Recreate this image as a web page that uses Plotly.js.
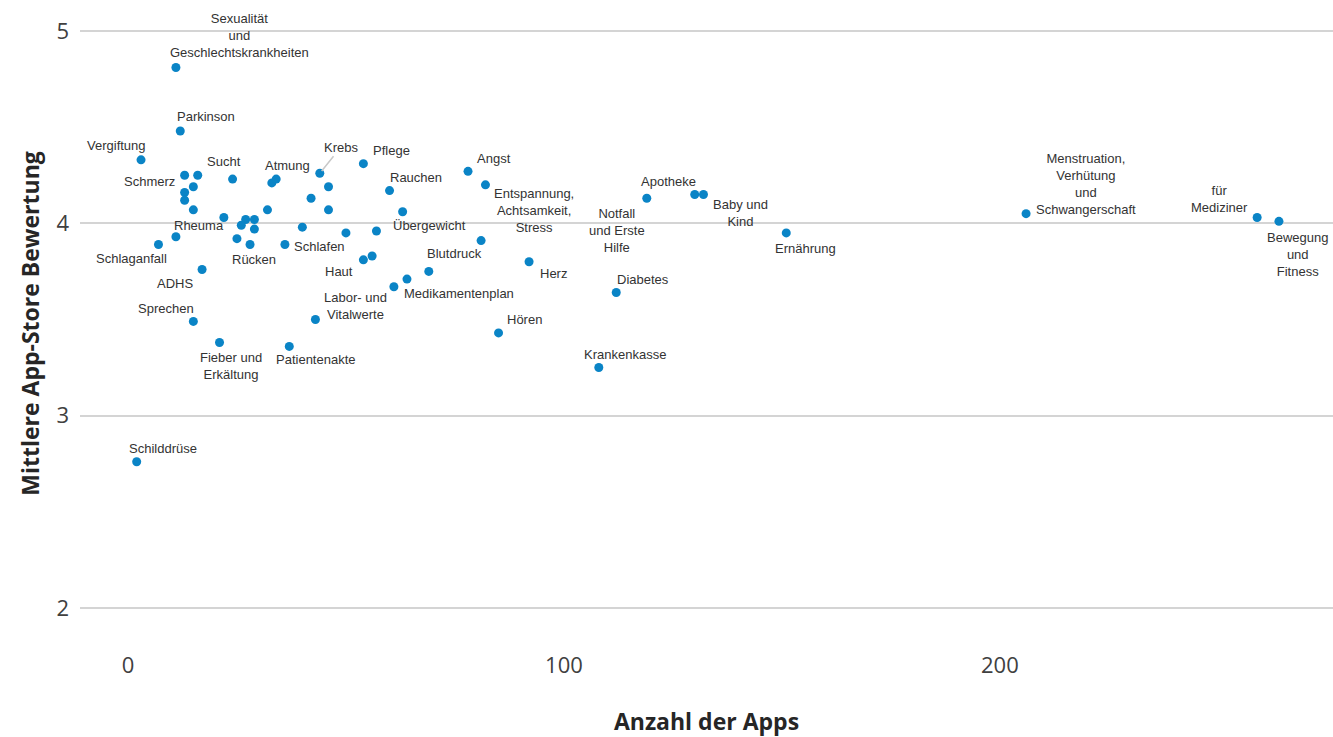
<!DOCTYPE html>
<html>
<head>
<meta charset="utf-8">
<script src="https://cdn.plot.ly/plotly-3.0.1.min.js"></script>
<style>html,body{margin:0;padding:0;background:#fff;}#chart{width:1333px;height:737px;}</style>
</head>
<body>
<div id="chart"></div>
<script>
// ---- data ----
const labels = [
  "Sexualität<br>und<br>Geschlechtskrankheiten","Parkinson","Vergiftung","Schmerz","","","","","",
  "Sucht","","Atmung","Krebs","","","","Rheuma","","","","","","","",
  "Schlaganfall","","Rücken","Schlafen","ADHS","Sprechen","Fieber und<br>Erkältung","Patientenakte","",
  "Schilddrüse","Pflege","Rauchen","","Übergewicht","","Haut","","Blutdruck","Medikamentenplan",
  "Labor- und<br>Vitalwerte","Angst","Entspannung,<br>Achtsamkeit,<br>Stress","","Herz","Hören",
  "Notfall<br>und Erste<br>Hilfe","Diabetes","Krankenkasse","Apotheke","Baby und<br>Kind","Ernährung",
  "Menstruation,<br>Verhütung<br>und<br>Schwangerschaft","für<br>Mediziner","Bewegung<br>und<br>Fitness"
];
const appCounts = [
  11,12,3,13,16,15,13,13,15,
  24,33,34,44,46,42,46,22,27,26,29,29,32,40,11,
  7,25,28,36,17,15,21,37,43,
  2,54,60,63,57,50,54,56,69,64,
  61,78,82,81,92,85,
  119,112,108,130,132,151,
  206,259,264
];
const ratings = [
  4.81,4.48,4.33,4.25,4.25,4.19,4.16,4.12,4.07,
  4.23,4.21,4.23,4.26,4.19,4.13,4.07,4.03,4.02,3.99,4.02,3.97,4.07,3.98,3.93,
  3.89,3.92,3.89,3.89,3.76,3.49,3.38,3.36,3.50,
  2.76,4.31,4.17,4.06,3.96,3.95,3.81,3.83,3.75,3.71,
  3.67,4.27,4.20,3.91,3.80,3.43,
  4.13,3.64,3.25,4.15,4.15,3.95,
  4.05,4.03,4.01
];
const xTickVals = [0,100,200];
const yTickVals = [2,3,4,5];
const xTitle = "Anzahl der Apps";
const yTitle = "Mittlere App-Store Bewertung";

// ---- label placement (style): pixel offsets [dx, dyUp] per label index ----
const labelOffsets = {
  0:[64,32],1:[26,14],2:[-25,14],3:[-35,-6],9:[-9,18],11:[11,14],
  16:[-25,-8],24:[-27,-14],26:[4,-15],27:[35,-2],28:[-27,-14],29:[-27,13],
  30:[11,-23],31:[27,-13],33:[26,13],34:[28,13],35:[26,13],37:[53,5],
  39:[-24,-12],41:[26,18],42:[52,-14],43:[-38,-19],44:[26,13],45:[49,-26],
  47:[24,-12],48:[26,13],49:[-30,-32],50:[27,13],51:[26,13],52:[-26,13],
  53:[37,-19],54:[19,-16],55:[60,30],56:[-38,19],57:[19,-33]
};

const labelFont = {family:"Liberation Sans, Arial, sans-serif", size:13, color:"#333333"};
const annotations = [];
labels.forEach((t,i)=>{
  if(!t) return;
  if(t === "Krebs"){
    annotations.push({x:appCounts[i], y:ratings[i], xref:'x', yref:'y', text:t,
      showarrow:true, arrowhead:0, arrowwidth:1.5, arrowcolor:'#c8c8c8',
      ax:21, ay:-26, standoff:3, font:labelFont});
    return;
  }
  const o = labelOffsets[i] || [0,14];
  annotations.push({x:appCounts[i], y:ratings[i], xref:'x', yref:'y', text:t,
    showarrow:false, xshift:o[0], yshift:o[1], align:'center', font:labelFont});
});

const trace = {
  type:'scatter', mode:'markers', x:appCounts, y:ratings, text:labels,
  marker:{color:'#0a84c6', size:9}, hoverinfo:'skip', cliponaxis:false
};

const axisFont = {family:"Open Sans, sans-serif", size:22, color:"#404040"};
const titleFont = {family:"Open Sans, sans-serif", size:23, color:"#262626", weight:700};
const layout = {
  width:1333, height:737,
  margin:{l:80, r:0, t:0, b:90, pad:0},
  paper_bgcolor:'#ffffff', plot_bgcolor:'#ffffff',
  showlegend:false,
  xaxis:{
    range:[-11, 276.4], tickvals:xTickVals, showgrid:false, zeroline:false,
    showline:false, ticks:'', tickfont:axisFont, ticklabelstandoff:3,
    title:{text:xTitle, font:titleFont, standoff:36}
  },
  yaxis:{
    range:[1.797, 5.161], tickvals:yTickVals, showgrid:true, gridcolor:'#d4d4d4', gridwidth:2,
    zeroline:false, showline:false, ticks:'', tickfont:axisFont, ticklabelstandoff:10,
    title:{text:yTitle, font:titleFont, standoff:10}
  },
  annotations:annotations
};
Plotly.newPlot('chart',[trace],layout,{staticPlot:true, displayModeBar:false});
</script>
</body>
</html>
